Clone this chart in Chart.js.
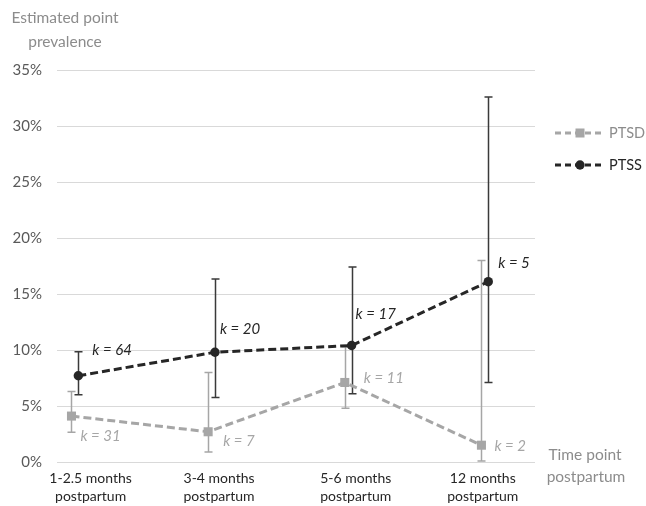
<!DOCTYPE html>
<html><head><meta charset="utf-8">
<script src="https://cdn.jsdelivr.net/npm/chart.js@4"></script>
<style>html,body{margin:0;padding:0;background:#fff}#wrap{width:646px;height:506px}</style>
</head><body><div id="wrap"><canvas id="c" width="646" height="506"></canvas></div>
<script>
// ---- data ----
const categories = [["1-2.5 months","postpartum"],["3-4 months","postpartum"],["5-6 months","postpartum"],["12 months","postpartum"]];
const ptsdValues = [4.1, 2.7, 7.1, 1.5];
const ptsdLow    = [2.65, 0.9, 4.8, 0.1];
const ptsdHigh   = [6.3, 8.0, 10.3, 18.0];
const ptsdK      = [31, 7, 11, 2];
const ptssValues = [7.7, 9.8, 10.4, 16.1];
const ptssLow    = [6.0, 5.75, 6.1, 7.1];
const ptssHigh   = [9.85, 16.35, 17.4, 32.6];
const ptssK      = [64, 20, 17, 5];
const yTickValues = [0, 5, 10, 15, 20, 25, 30, 35];
const seriesNames = ["PTSD", "PTSS"];

// ---- style ----
const FONT = "Lato, 'Open Sans', sans-serif";
const GRAY = "#a6a6a6", DARK = "#262626", ERRDARK = "#3a3a3a";
const PTSD_SHIFT = -0.05;
const tickNudge = [0.09, 0.03, 0.03, -0.04];
const ptssLabelOff = [[14,-26],[5,-23],[4,-31],[10,-19]];
const ptsdLabelOff = [[9,20],[15,9],[19,-4],[13,1]];

const ptssData = ptssValues.map((v,i)=>({x:i+1, y:v}));
const ptsdData = ptsdValues.map((v,i)=>({x:i+1+PTSD_SHIFT, y:v}));

const extras = {
  id:'extras',
  beforeDatasetsDraw(chart){
    const {ctx, scales:{x,y}} = chart;
    const drawErr = (data, lo, hi, color) => {
      ctx.save(); ctx.strokeStyle=color; ctx.lineWidth=1.5;
      data.forEach((p,i)=>{
        const px = Math.round(x.getPixelForValue(p.x))+0.5;
        const y1 = y.getPixelForValue(lo[i]), y2 = y.getPixelForValue(hi[i]);
        ctx.beginPath();
        ctx.moveTo(px,y1); ctx.lineTo(px,y2);
        ctx.moveTo(px-4,y1); ctx.lineTo(px+4,y1);
        ctx.moveTo(px-4,y2); ctx.lineTo(px+4,y2);
        ctx.stroke();
      });
      ctx.restore();
    };
    drawErr(ptsdData, ptsdLow, ptsdHigh, GRAY);
    drawErr(ptssData, ptssLow, ptssHigh, ERRDARK);
  },
  afterDatasetsDraw(chart){
    const {ctx, scales:{x,y}} = chart;
    ctx.save();
    ctx.font = "italic 15px " + FONT;
    ctx.textBaseline = 'middle'; ctx.textAlign='left';
    ptssData.forEach((p,i)=>{
      ctx.fillStyle = DARK;
      ctx.fillText("k = "+ptssK[i], x.getPixelForValue(p.x)+ptssLabelOff[i][0], y.getPixelForValue(p.y)+ptssLabelOff[i][1]);
    });
    ptsdData.forEach((p,i)=>{
      ctx.fillStyle = GRAY;
      ctx.fillText("k = "+ptsdK[i], x.getPixelForValue(p.x)+ptsdLabelOff[i][0], y.getPixelForValue(p.y)+ptsdLabelOff[i][1]);
    });
    // axis titles
    ctx.font = "15.5px " + FONT; ctx.fillStyle = "#8c8c8c"; ctx.textAlign='center';
    ctx.fillText("Estimated point", 65, 18);
    ctx.fillText("prevalence", 65, 42);
    ctx.fillText("Time point", 585, 455);
    ctx.fillText("postpartum", 586, 477);
    // legend
    const legend = [[seriesNames[0], GRAY, '#8c8c8c', 'rect', 133],[seriesNames[1], DARK, DARK, 'circle', 165]];
    legend.forEach(([name, col, tcol, shape, ly])=>{
      ctx.strokeStyle = col; ctx.lineWidth = 3; ctx.setLineDash([6,4]);
      ctx.beginPath(); ctx.moveTo(555, ly); ctx.lineTo(604, ly); ctx.stroke();
      ctx.setLineDash([]);
      ctx.fillStyle = col;
      if (shape==='rect') ctx.fillRect(575.5, ly-4.5, 9, 9);
      else { ctx.beginPath(); ctx.arc(580, ly, 4.7, 0, Math.PI*2); ctx.fill(); }
      ctx.fillStyle = tcol; ctx.textAlign='left'; ctx.font = "14.5px " + FONT;
      ctx.fillText(name, 609, ly);
    });
    ctx.restore();
  }
};

new Chart(document.getElementById('c'), {
  type:'line',
  data:{ datasets:[
    { label:seriesNames[1], data:ptssData, borderColor:DARK, backgroundColor:DARK, borderWidth:3,
      borderDash:[8,4], pointStyle:'circle', pointRadius:4.7, pointBorderWidth:0, order:0 },
    { label:seriesNames[0], data:ptsdData, borderColor:GRAY, backgroundColor:GRAY, borderWidth:3,
      borderDash:[8,4], pointStyle:'rect', pointRadius:6.4, pointBorderWidth:0, order:1 }
  ]},
  options:{
    responsive:false, animation:false, devicePixelRatio:1,
    layout:{ padding:{ left:0, right:111, top:70, bottom:0 } },
    plugins:{ legend:{display:false}, tooltip:{enabled:false} },
    scales:{
      x:{ type:'linear', min:0.844, max:4.342,
        afterBuildTicks(s){ s.ticks = categories.map((c,i)=>({value:i+1+tickNudge[i]})); },
        afterFit(s){ s.height = 44; },
        grid:{ display:false, drawTicks:false },
        border:{ display:false },
        ticks:{ padding:7, color:'#262626', font:{family:FONT, size:14, lineHeight:1.3},
          callback:(v, idx)=> categories[idx] || '' }
      },
      y:{ min:0, max:35,
        afterBuildTicks(s){ s.ticks = yTickValues.map(v=>({value:v})); },
        afterFit(s){ s.width = 57; },
        grid:{ color:'#d9d9d9', lineWidth:1, drawTicks:false },
        border:{ display:false },
        ticks:{ padding:15, color:'#595959', font:{family:FONT, size:15}, callback:(v)=>v+'%' }
      }
    }
  },
  plugins:[extras]
});
</script></body></html>
